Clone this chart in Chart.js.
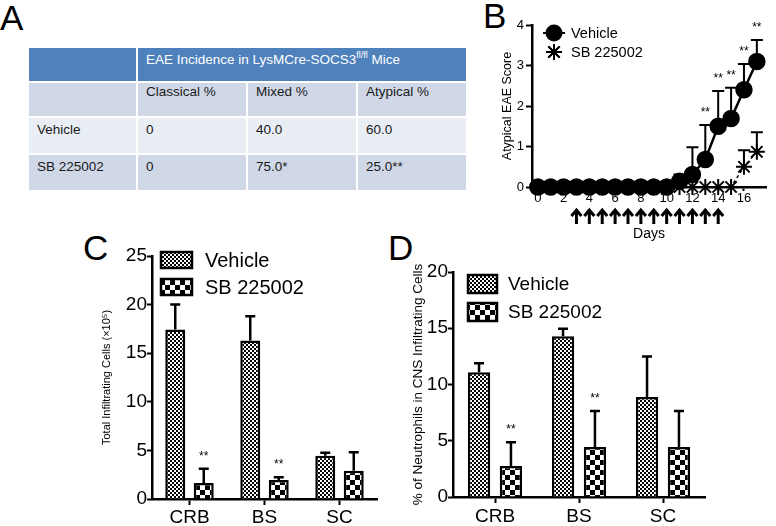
<!DOCTYPE html>
<html>
<head>
<meta charset="utf-8">
<script src="https://cdn.jsdelivr.net/npm/chart.js@4.4.0/dist/chart.umd.min.js"></script>
<style>
  body { margin: 0; width: 776px; height: 526px; background: #fff; position: relative; overflow: hidden;
         font-family: "Liberation Sans", Arial, Helvetica, sans-serif; }
  .letter { position: absolute; font-size: 35px; line-height: 35px; color: #000; }
  canvas { position: absolute; }
  #tableA { position: absolute; left: 27px; top: 46px; width: 439px; border-collapse: collapse;
            table-layout: fixed; font-size: 13.5px; color: #1a1a1a; }
  #tableA td { border: 2px solid #fff; padding: 4px 0 0 8px; vertical-align: top; white-space: nowrap; }
  #tableA tr.head td { background: #4f81bd; color: #fff; height: 31px; padding-top: 2px; }
  #tableA tr.sub td { background: #d0d8e8; height: 32px; padding-top: 1px; }
  #tableA tr.odd td { background: #e9edf4; height: 31px; }
  #tableA tr.even td { background: #d0d8e8; height: 31px; }
  #tableA sup { font-size: 9px; }
</style>
</head>
<body>
<div class="letter" style="left:0px; top:0px;">A</div>
<div class="letter" style="left:483px; top:-2px;">B</div>
<div class="letter" style="left:83px; top:230px;">C</div>
<div class="letter" style="left:388px; top:230px;">D</div>

<table id="tableA"></table>

<canvas id="chartB" width="296" height="250" style="left:480px; top:0px;"></canvas>
<canvas id="chartC" width="310" height="296" style="left:80px; top:230px;"></canvas>
<canvas id="chartD" width="386" height="296" style="left:390px; top:230px;"></canvas>

<script>
// ---- Panel A: incidence table ----
const tableTitle = 'EAE Incidence in LysMCre-SOCS3<sup>fl/fl</sup> Mice';
const tableCols = ['Classical %', 'Mixed %', 'Atypical %'];
const tableGroups = ['Vehicle', 'SB 225002'];
const classicalPct = ['0', '0'];
const mixedPct = ['40.0', '75.0*'];
const atypicalPct = ['60.0', '25.0**'];

// ---- Panel B: atypical EAE score over time ----
const days = [0, 1, 2, 3, 4, 5, 6, 7, 8, 9, 10, 11, 12, 13, 14, 15, 16, 17];
const vehicleScore = [0, 0, 0, 0, 0, 0, 0, 0, 0, 0, 0, 0.14, 0.31, 0.68, 1.5, 1.69, 2.4, 3.1];
const vehicleErr = [0, 0, 0, 0, 0, 0, 0, 0, 0, 0, 0, 0.17, 0.67, 0.85, 0.87, 0.76, 0.64, 0.53];
const vehicleSig = ['', '', '', '', '', '', '', '', '', '', '', '', '', '**', '**', '**', '**', '**'];
const sbScore = [0, 0, 0, 0, 0, 0, 0, 0, 0, 0, 0, 0, 0, 0, 0, 0, 0.5, 0.87];
const sbErr = [0, 0, 0, 0, 0, 0, 0, 0, 0, 0, 0, 0, 0, 0, 0, 0, 0.41, 0.48];
const dayTicks = [0, 2, 4, 6, 8, 10, 12, 14, 16];
const treatmentDays = [3, 4, 5, 6, 7, 8, 9, 10, 11, 12, 13, 14];

// ---- Panels C and D: CNS infiltrates ----
const regions = ['CRB', 'BS', 'SC'];
const totalVehicle = [17.45, 16.3, 4.45];
const totalVehicleErr = [2.55, 2.5, 0.3];
const totalSB = [1.65, 1.95, 2.9];
const totalSBErr = [1.45, 0.3, 1.9];
const totalSig = ['**', '**', ''];
const neutVehicle = [11.1, 14.3, 8.9];
const neutVehicleErr = [0.8, 0.66, 3.6];
const neutSB = [2.76, 4.44, 4.44];
const neutSBErr = [2.1, 3.2, 3.2];
const neutSig = ['**', '**', ''];

// build table
(function () {
  const t = document.getElementById('tableA');
  let html = '<colgroup><col style="width:109px"><col style="width:110px"><col style="width:110px"><col style="width:110px"></colgroup>';
  html += '<tr class="head"><td></td><td colspan="3">' + tableTitle + '</td></tr>';
  html += '<tr class="sub"><td></td>' + tableCols.map(c => '<td>' + c + '</td>').join('') + '</tr>';
  tableGroups.forEach((g, i) => {
    html += '<tr class="' + (i % 2 ? 'even' : 'odd') + '"><td>' + g + '</td><td>' + classicalPct[i] +
      '</td><td>' + mixedPct[i] + '</td><td>' + atypicalPct[i] + '</td></tr>';
  });
  t.innerHTML = html;
})();

Chart.defaults.font.family = '"Liberation Sans", Arial, Helvetica, sans-serif';
Chart.defaults.color = '#000';
Chart.defaults.animation = false;

// checkerboard fill like the bar patterns
function checker(cell) {
  const c = document.createElement('canvas');
  c.width = c.height = cell * 2;
  const g = c.getContext('2d');
  g.fillStyle = '#fff';
  g.fillRect(0, 0, cell * 2, cell * 2);
  g.fillStyle = '#000';
  g.fillRect(0, 0, cell, cell);
  g.fillRect(cell, cell, cell, cell);
  return g.createPattern(c, 'repeat');
}
const fineCheck = checker(2);
const coarseCheck = checker(5);

function stars(ctx, text, x, yTop, size) {
  if (!text) return;
  ctx.save();
  ctx.fillStyle = '#000';
  ctx.font = size + 'px "Liberation Sans", Arial, sans-serif';
  ctx.textAlign = 'center';
  ctx.textBaseline = 'alphabetic';
  ctx.fillText(text, x, yTop - 3);
  ctx.restore();
}

function errBar(ctx, x, yFrom, yTo, half, lw) {
  ctx.save();
  ctx.strokeStyle = '#000';
  ctx.lineWidth = lw;
  ctx.beginPath();
  ctx.moveTo(x, yFrom);
  ctx.lineTo(x, yTo);
  ctx.moveTo(x - half, yTo);
  ctx.lineTo(x + half, yTo);
  ctx.stroke();
  ctx.restore();
}

// ---- Panel B ----
const bExtras = {
  id: 'bExtras',
  beforeDatasetsDraw(chart) {
    const ctx = chart.ctx, y = chart.scales.y;
    [[vehicleScore, vehicleErr], [sbScore, sbErr]].forEach(([vals, errs], i) => {
      const meta = chart.getDatasetMeta(i);
      meta.data.forEach((pt, j) => {
        if (errs[j] > 0) errBar(ctx, pt.x, pt.y, y.getPixelForValue(vals[j] + errs[j]), 6, 2);
      });
    });
  },
  afterDatasetsDraw(chart) {
    const ctx = chart.ctx, x = chart.scales.x, y = chart.scales.y;
    chart.getDatasetMeta(0).data.forEach((pt, j) => {
      stars(ctx, vehicleSig[j], pt.x, y.getPixelForValue(vehicleScore[j] + vehicleErr[j]) - 6, 12);
    });
    // treatment arrows
    ctx.save();
    ctx.strokeStyle = '#000';
    ctx.lineWidth = 3;
    treatmentDays.forEach(d => {
      const px = x.getPixelForValue(d);
      ctx.beginPath();
      ctx.moveTo(px, 224);
      ctx.lineTo(px, 211);
      ctx.moveTo(px - 5, 216);
      ctx.lineTo(px, 210);
      ctx.lineTo(px + 5, 216);
      ctx.stroke();
    });
    ctx.restore();
    // legend
    const rows = [33, 52];
    chart.data.datasets.forEach((ds, i) => {
      const ly = rows[i];
      ctx.save();
      ctx.strokeStyle = '#000';
      ctx.lineWidth = 2;
      if (i === 0) {
        ctx.beginPath(); ctx.moveTo(63, ly); ctx.lineTo(85, ly); ctx.stroke();
      }
      Chart.helpers.drawPoint(ctx, {pointStyle: ds.pointStyle, radius: ds.pointRadius, borderWidth: 2, rotation: 0}, 74, ly);
      if (i === 0) ctx.fill(); else ctx.stroke();
      ctx.fillStyle = '#000';
      ctx.font = '14.5px "Liberation Sans", Arial, sans-serif';
      ctx.textBaseline = 'middle';
      ctx.fillText(ds.label, 91, ly + 1);
      ctx.restore();
    });
  }
};

new Chart(document.getElementById('chartB'), {
  type: 'line',
  data: {
    datasets: [
      {
        label: 'Vehicle',
        data: days.map((d, i) => ({x: d, y: vehicleScore[i]})),
        borderColor: '#000', backgroundColor: '#000', borderWidth: 2.5,
        pointStyle: 'circle', pointRadius: 7.5, pointBackgroundColor: '#000', pointBorderColor: '#000',
        clip: false
      },
      {
        label: 'SB 225002',
        data: days.map((d, i) => ({x: d, y: sbScore[i]})),
        borderColor: '#000', backgroundColor: '#000', borderWidth: 1.5, borderDash: [3, 3],
        pointStyle: 'star', pointRadius: 8, pointBorderWidth: 2, pointBorderColor: '#000',
        clip: false
      }
    ]
  },
  options: {
    responsive: false,
    animation: false,
    layout: {padding: {top: 25, left: 0, right: 0, bottom: 0}},
    plugins: {legend: {display: false}, tooltip: {enabled: false}},
    scales: {
      x: {
        type: 'linear', min: -0.45, max: 17.71,
        afterBuildTicks: s => { s.ticks = dayTicks.map(v => ({value: v})); },
        afterFit: s => { s.height = 63; },
        grid: {drawOnChartArea: false, tickLength: 4, tickWidth: 2, tickColor: '#000'},
        border: {color: '#000', width: 2.5},
        ticks: {padding: 0, font: {size: 13}, maxRotation: 0, autoSkip: false},
        title: {display: true, text: 'Days', font: {size: 14}, padding: {top: 0, bottom: 7}}
      },
      y: {
        min: 0, max: 4,
        afterFit: s => { s.width = 52; },
        grid: {drawOnChartArea: false, tickLength: 6, tickWidth: 2, tickColor: '#000'},
        border: {color: '#000', width: 2.5},
        ticks: {stepSize: 1, padding: 2, font: {size: 13}},
        title: {display: true, text: 'Atypical EAE Score', font: {size: 12.5}, padding: {top: 20, bottom: 0}}
      }
    }
  },
  plugins: [bExtras]
});

// ---- Panels C and D: grouped bar charts ----
function barExtras(id, vals, errs, sig, legendBox, legendText) {
  return {
    id: id,
    afterDatasetsDraw(chart) {
      const ctx = chart.ctx, y = chart.scales.y;
      vals.forEach((v, i) => {
        chart.getDatasetMeta(i).data.forEach((bar, j) => {
          const top = y.getPixelForValue(v[j] + errs[i][j]);
          errBar(ctx, bar.x, bar.y, top, 5, 2.5);
          if (i === 1) stars(ctx, sig[j], bar.x, top - 6, 12);
        });
      });
      // legend
      chart.data.datasets.forEach((ds, i) => {
        const by = legendBox.y + i * legendBox.step;
        ctx.save();
        ctx.fillStyle = ds.backgroundColor;
        ctx.fillRect(legendBox.x, by, legendBox.w, legendBox.h);
        ctx.strokeStyle = '#000';
        ctx.lineWidth = 2.5;
        ctx.strokeRect(legendBox.x, by, legendBox.w, legendBox.h);
        ctx.fillStyle = '#000';
        ctx.font = legendText.size + 'px "Liberation Sans", Arial, sans-serif';
        ctx.textBaseline = 'middle';
        ctx.fillText(ds.label, legendText.x, by + legendBox.h / 2 + 1);
        ctx.restore();
      });
    }
  };
}

function barChart(canvasId, vehicle, vehicleE, sb, sbE, sig, o) {
  return new Chart(document.getElementById(canvasId), {
    type: 'bar',
    data: {
      labels: regions,
      datasets: [
        {label: 'Vehicle', data: vehicle, backgroundColor: fineCheck, borderColor: '#000', borderWidth: 2.5,
         borderSkipped: 'bottom', categoryPercentage: 0.76, barPercentage: 0.7},
        {label: 'SB 225002', data: sb, backgroundColor: coarseCheck, borderColor: '#000', borderWidth: 2.5,
         borderSkipped: 'bottom', categoryPercentage: 0.76, barPercentage: 0.7}
      ]
    },
    options: {
      responsive: false,
      animation: false,
      layout: {padding: {top: o.top, left: 0, right: o.right, bottom: 0}},
      plugins: {legend: {display: false}, tooltip: {enabled: false}},
      scales: {
        x: {
          afterFit: s => { s.height = o.xHeight; },
          grid: {offset: false, drawOnChartArea: false, tickLength: 6, tickWidth: 2, tickColor: '#000'},
          border: {color: '#000', width: 2.5},
          ticks: {padding: o.xPad, font: {size: 19}}
        },
        y: {
          min: 0, max: o.yMax,
          afterFit: s => { s.width = o.yWidth; },
          grid: {drawOnChartArea: false, tickLength: 5, tickWidth: 2, tickColor: '#000'},
          border: {color: '#000', width: 2.5},
          ticks: {stepSize: 5, padding: 0, font: {size: 19}},
          title: {display: true, text: o.title, font: {size: o.titleSize}, padding: {top: o.titlePad, bottom: 0}}
        }
      }
    },
    plugins: [barExtras(canvasId + 'Extras', [vehicle, sb], [vehicleE, sbE], sig, o.legendBox, o.legendText)]
  });
}

barChart('chartC', totalVehicle, totalVehicleErr, totalSB, totalSBErr, totalSig, {
  top: 26, right: 13, xHeight: 27, xPad: 1, yMax: 25, yWidth: 72,
  title: 'Total Infiltrating Cells (×10⁵)', titleSize: 11, titlePad: 20,
  legendBox: {x: 81, y: 22, w: 31, h: 16, step: 27}, legendText: {x: 125, size: 20}
});

barChart('chartD', neutVehicle, neutVehicleErr, neutSB, neutSBErr, neutSig, {
  top: 42, right: 71, xHeight: 29, xPad: 2, yMax: 20, yWidth: 63,
  title: '% of Neutrophils in CNS Infiltrating Cells', titleSize: 13.5, titlePad: 20,
  legendBox: {x: 78, y: 45, w: 29, h: 18, step: 28}, legendText: {x: 118, size: 19}
});
</script>
</body>
</html>
